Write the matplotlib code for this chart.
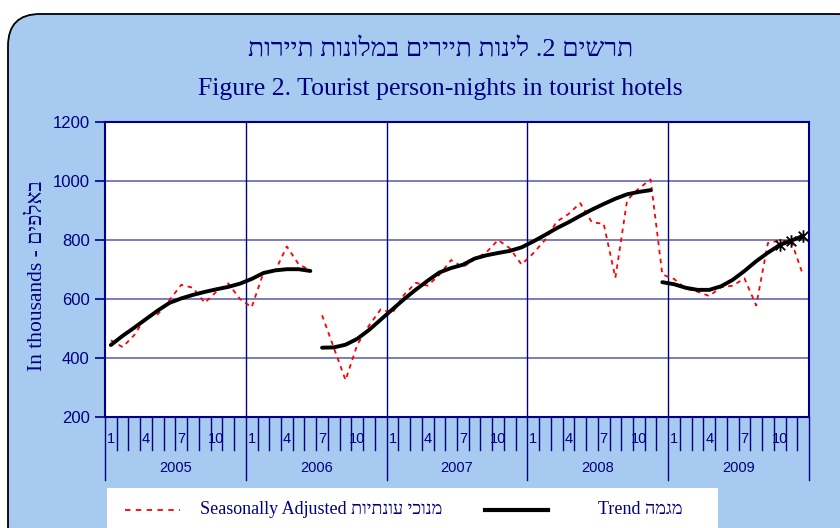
import matplotlib
matplotlib.use("Agg")
import matplotlib.pyplot as plt
from matplotlib.patches import FancyBboxPatch, Rectangle
from matplotlib.lines import Line2D
from matplotlib.path import Path
from matplotlib.transforms import IdentityTransform
import numpy as np

years = ["2005", "2006", "2007", "2008", "2009"]
month_labels = ["1", "4", "7", "10"]

# seasonally adjusted, thousands, Jan 2005 - Dec 2009
seas_adj = [460, 437, 478, 540, 548, 597, 648, 638, 587, 625, 653, 600,
            572, 688, 695, 778, 718, 697, 545, 435, 325, 445, 510, 565,
            553, 615, 655, 645, 682, 732, 708, 735, 758, 800, 772, 717,
            755, 800, 862, 888, 925, 860, 855, 672, 935, 975, 1005, 683,
            668, 635, 625, 610, 640, 645, 670, 578, 790, 798, 795, 680]
# trend
trend = [444, 475, 503, 532, 561, 587, 602, 614, 624, 633, 641, 652,
         668, 688, 697, 701, 701, 695, 435, 436, 445, 465, 495, 530,
         565, 600, 632, 662, 690, 705, 716, 737, 748, 756, 763, 775,
         795, 817, 840, 860, 882, 903, 922, 940, 955, 963, 969, 657,
         650, 638, 631, 631, 643, 665, 695, 728, 757, 783, 798, 814]
# series breaks (index where a new piece starts)
sa_breaks = [18]
trend_breaks = [18, 47]
n_marked = 3  # last trend points drawn with asterisks

navy = "#000080"
bg = "#A6CAF0"
serif = ["Liberation Serif", "DejaVu Serif", "DejaVu Sans"]
sans = ["Liberation Sans", "DejaVu Sans"]


def rtl(s):
    return s[::-1]


def pieces(vals, breaks):
    edges = [0] + breaks + [len(vals)]
    return [(np.arange(a, b), np.array(vals[a:b])) for a, b in zip(edges[:-1], edges[1:])]


# excel style asterisk: X plus a vertical bar
star = Path([(-1, -1), (1, 1), (-1, 1), (1, -1), (0, -1.3), (0, 1.3)],
            [Path.MOVETO, Path.LINETO, Path.MOVETO, Path.LINETO, Path.MOVETO, Path.LINETO])

fig = plt.figure(figsize=(8.4, 5.28), dpi=100)
fig.patch.set_facecolor("white")
box = FancyBboxPatch((8, -30), 860, 544, boxstyle="round,pad=0,rounding_size=32",
                     transform=IdentityTransform(), facecolor=bg, edgecolor="black",
                     linewidth=1.3, zorder=-10)
fig.patches.append(box)

fig.text(0.524, 1 - 50 / 528, rtl("תרשים 2. לינות תיירים במלונות תיירות"),
         ha="center", va="center", fontsize=19, color=navy, family=serif)
fig.text(0.524, 1 - 89 / 528, "Figure 2. Tourist person-nights in tourist hotels",
         ha="center", va="center", fontsize=18.5, color=navy, family=serif)

ax = fig.add_axes([105 / 840, 1 - 417 / 528, (809 - 105) / 840, (417 - 122) / 528])
ax.set_facecolor("white")

for x, y in pieces(seas_adj, sa_breaks):
    ax.plot(x, y, color="red", lw=1.3, linestyle=(0, (2.5, 2.5)), zorder=3)
for x, y in pieces(trend, trend_breaks):
    ax.plot(x, y, color="black", lw=2.8, solid_capstyle="round", zorder=4)
n = len(trend)
ax.plot(np.arange(n - n_marked, n), trend[-n_marked:], linestyle="none",
        marker=star, markersize=9, markeredgecolor="black",
        markeredgewidth=1.3, zorder=5)

ax.set_xlim(-0.5, n - 0.5)
ax.set_ylim(200, 1200)
ax.set_yticks(range(200, 1201, 200))
ax.grid(axis="y", color="#7272BA", lw=1.3)
ax.set_axisbelow(True)
for b in range(12, n, 12):
    ax.axvline(b - 0.5, color=navy, lw=1.0, zorder=2)

for s in ax.spines.values():
    s.set_color(navy)
    s.set_linewidth(1.5)
ax.tick_params(axis="y", direction="out", length=7, width=1.2, color=navy,
               labelcolor=navy, labelsize=12, pad=4)
for lab in ax.get_yticklabels():
    lab.set_family(sans)
ax.set_xticks([])

# multi-level category axis below the plot
tr = ax.get_xaxis_transform()
for k in range(n + 1):
    long = k % 12 == 0
    ax.plot([k - 0.5, k - 0.5], [0, -0.215 if long else -0.112], transform=tr,
            color=navy, lw=1.0, clip_on=False)
for k in range(n):
    m = k % 12 + 1
    if str(m) in month_labels:
        ax.text(k, -0.073, str(m), transform=tr, ha="center", va="center",
                fontsize=10.5, color=navy, family=sans)
for j, yr in enumerate(years):
    ax.text(12 * j + 5.5, -0.172, yr, transform=tr, ha="center", va="center",
            fontsize=10.5, color=navy, family=sans)

ax.set_ylabel("In thousands - " + rtl("באלפים"), fontsize=15.5, color=navy,
              family=serif)
ax.yaxis.set_label_coords(-58 / 704, 0.48)

# legend
fig.patches.append(Rectangle((107, 0), 611, 40, transform=IdentityTransform(),
                             facecolor="white", edgecolor="none", zorder=1))
ly = 1 - 510 / 528
fig.add_artist(Line2D([125 / 840, 180 / 840], [ly, ly], color="red", lw=1.3,
                      linestyle=(0, (3, 3))))
fig.text(200 / 840, ly, "Seasonally Adjusted " + rtl("מנוכי עונתיות"), ha="left",
         va="center", fontsize=13, color=navy, family=serif)
fig.add_artist(Line2D([485 / 840, 548 / 840], [ly, ly], color="black", lw=3))
fig.text(598 / 840, ly, "Trend " + rtl("מגמה"), ha="left", va="center",
         fontsize=13, color=navy, family=serif)

fig.savefig("out.png", dpi=100)
